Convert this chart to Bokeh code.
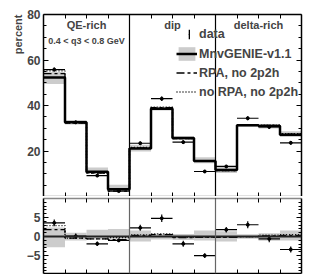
from bokeh.plotting import figure
from bokeh.models import (ColumnDataSource, Range1d, LinearAxis, FixedTicker, Span, Label,
                          Legend, LegendItem, Title)
from bokeh.layouts import column
from bokeh.embed import file_html
from bokeh.resources import INLINE

# ---------------- data ----------------
bin_edges = [0, 1, 2, 3, 4, 5, 6, 7, 8, 9, 10, 11, 12]
regions = ["QE-rich", "dip", "delta-rich"]
region_centers = [2, 6, 10]
region_dividers = [4, 8]
q3_label = "0.4 < q3 < 0.8 GeV"
legend_labels = ["data", "MnvGENIE-v1.1", "RPA, no 2p2h", "no RPA, no 2p2h"]

# top panel (percent)
mc_top = [52.3, 32.6, 10.9, 3.2, 21.1, 38.6, 25.7, 15.6, 11.6, 31.3, 31.0, 27.1]
data_top = [55.8, 32.6, 9.2, 2.4, 23.4, 43.0, 23.9, 11.0, 13.2, 34.4, 30.6, 23.6]
data_err = [0.9, 0.7, 0.6, 0.4, 0.8, 1.0, 0.8, 0.6, 0.7, 0.9, 0.9, 0.8]
rpa_no2p2h_top = [54.0, 32.3, 10.3, 2.4, 21.4, 39.1, 25.4, 15.4, 11.4, 31.3, 31.2, 27.4]
norpa_no2p2h_top = [55.2, 32.3, 10.3, 2.9, 21.6, 39.3, 25.5, 15.4, 11.4, 31.3, 31.4, 27.6]
band_hi = [2.4, 1.0, 1.8, 2.0, 1.6, 0.8, 0.7, 1.6, 1.4, 0.6, 0.9, 1.6]
band_lo = [-2.8, -1.0, -0.8, -0.6, -1.3, -0.8, -0.9, -1.0, -1.3, -0.6, -1.1, -1.0]

# bottom panel (difference to MnvGENIE-v1.1)
data_diff = [3.6, 0.1, -1.9, -1.0, 2.3, 4.8, -1.9, -5.0, 1.8, 3.1, -0.6, -3.4]
rpa_no2p2h_diff = [1.8, -0.4, -0.6, -0.8, 0.3, 0.5, -0.3, -0.2, -0.2, 0.0, 0.2, 0.3]
norpa_no2p2h_diff = [2.9, -0.4, -0.6, -0.3, 0.45, 0.7, -0.2, -0.2, -0.2, 0.0, 0.4, 0.5]

FONT = "Liberation Sans"
BAND = "#cccccc"
ERR_W = 0.055  # error-bar thickness in bin units

left = bin_edges[:-1]
right = bin_edges[1:]
mid = [(a + b) / 2 for a, b in zip(left, right)]


def step_y(vals):
    return list(vals) + [vals[-1]]


def hide_labels(ax):
    ax.major_label_text_font_size = "0px"
    ax.major_label_text_color = None
    ax.major_label_standoff = 0


def style_fig(p, yticks, yminor, top_color, bottom_color, tick_len=5):
    p.outline_line_color = None
    p.grid.visible = False
    p.background_fill_color = "white"
    p.border_fill_color = "white"
    xb = p.xaxis[0]
    xa = LinearAxis()
    p.add_layout(xa, "above")
    for ax, col in ((xb, bottom_color), (xa, top_color)):
        ax.ticker = FixedTicker(ticks=bin_edges[1:-1])
        ax.major_tick_in = 4
        ax.major_tick_out = 0
        ax.minor_tick_in = 0
        ax.minor_tick_out = 0
        hide_labels(ax)
        ax.axis_line_color = col
        ax.axis_line_width = 1.5
        ax.major_tick_line_color = "black"
    yl = p.yaxis[0]
    yr = LinearAxis()
    p.add_layout(yr, "right")
    for ax in (yl, yr):
        ax.ticker = FixedTicker(ticks=yticks, minor_ticks=yminor)
        ax.major_tick_in = tick_len
        ax.major_tick_out = 0
        ax.minor_tick_in = 3
        ax.minor_tick_out = 0
        ax.axis_line_color = "black"
        ax.axis_line_width = 1.5
    yl.major_label_text_font = FONT
    yl.major_label_text_font_style = "bold"
    yl.major_label_text_font_size = "12px"
    yl.major_label_standoff = 3
    hide_labels(yr)


# ---------------- top panel ----------------
p1 = figure(width=314, height=196, x_range=Range1d(0, 12), y_range=Range1d(0, 80),
            output_backend="svg", toolbar_location=None,
            min_border_left=43, min_border_right=13, min_border_top=14, min_border_bottom=0)

top_src = ColumnDataSource(dict(
    left=left, right=right, mid=mid,
    band_bot=[m + lo for m, lo in zip(mc_top, band_lo)],
    band_top=[m + hi for m, hi in zip(mc_top, band_hi)],
    data=data_top,
    dlo=[d - e for d, e in zip(data_top, data_err)],
    dhi=[d + e for d, e in zip(data_top, data_err)],
))

band_r = p1.quad(left="left", right="right", bottom="band_bot", top="band_top",
                 source=top_src, fill_color=BAND, line_color=None)
norpa_r = p1.step(x=bin_edges, y=step_y(norpa_no2p2h_top), mode="after",
                  line_color="black", line_width=1.3, line_dash="1 2")
rpa_r = p1.step(x=bin_edges, y=step_y(rpa_no2p2h_top), mode="after",
                line_color="black", line_width=1.3, line_dash="8 3 3 3")
mc_r = p1.step(x=bin_edges, y=step_y(mc_top), mode="after",
               line_color="black", line_width=2.5)
p1.segment(x0="left", x1="right", y0="data", y1="data", source=top_src,
           line_color="black", line_width=1.2)
err_r = p1.vbar(x="mid", width=ERR_W, bottom="dlo", top="dhi", source=top_src,
                fill_color="black", line_color=None)
dot_r = p1.scatter(x="mid", y="data", source=top_src, marker="circle", size=3,
                   fill_color="black", line_color="black")

for d in region_dividers:
    p1.add_layout(Span(location=d, dimension="height", line_color="black", line_width=1.2))

for name, c in zip(regions, region_centers):
    p1.add_layout(Label(x=c, y=75.6, text=name, text_align="center", text_baseline="middle",
                        text_font=FONT, text_font_style="bold", text_font_size="11px"))
p1.add_layout(Label(x=region_centers[0], y=68.3, text=q3_label, text_align="center",
                    text_baseline="middle", text_font=FONT, text_font_style="bold",
                    text_font_size="9px"))

style_fig(p1, [20, 40, 60, 80], [5, 10, 15, 25, 30, 35, 45, 50, 55, 65, 70, 75],
          "black", "#888888")

p1.add_layout(Title(text="percent", align="right", text_font=FONT, text_font_style="bold",
                    text_font_size="11px", standoff=1, offset=0), "left")


def style_legend(lg, gw, gh, standoff):
    lg.background_fill_alpha = 0
    lg.border_line_alpha = 0
    lg.padding = 0
    lg.margin = 0
    lg.spacing = 2
    lg.glyph_width = gw
    lg.glyph_height = gh
    lg.label_height = gh
    lg.label_standoff = standoff
    lg.label_text_font = FONT
    lg.label_text_font_style = "bold"
    lg.label_text_font_size = "12.5px"


legend_data = Legend(items=[LegendItem(label=legend_labels[0], renderers=[err_r, dot_r])],
                     location=(145, 155))
style_legend(legend_data, 2, 12, 9)
p1.add_layout(legend_data)

legend = Legend(items=[
    LegendItem(label=legend_labels[1], renderers=[band_r, mc_r]),
    LegendItem(label=legend_labels[2], renderers=[rpa_r]),
    LegendItem(label=legend_labels[3], renderers=[norpa_r]),
], location=(133, 96))
style_legend(legend, 21, 17, 2)
p1.add_layout(legend)

# ---------------- bottom panel ----------------
p2 = figure(width=314, height=78, x_range=p1.x_range, y_range=Range1d(-9.7, 10),
            output_backend="svg", toolbar_location=None,
            min_border_left=43, min_border_right=13, min_border_top=2, min_border_bottom=1)

bot_src = ColumnDataSource(dict(
    left=left, right=right, mid=mid,
    band_bot=band_lo, band_top=band_hi,
    data=data_diff,
    dlo=[d - e for d, e in zip(data_diff, data_err)],
    dhi=[d + e for d, e in zip(data_diff, data_err)],
))
p2.quad(left="left", right="right", bottom="band_bot", top="band_top",
        source=bot_src, fill_color=BAND, line_color=None)
p2.add_layout(Span(location=0, dimension="width", line_color="#222222", line_width=2))
p2.step(x=bin_edges, y=step_y(norpa_no2p2h_diff), mode="after",
        line_color="black", line_width=1.3, line_dash="1 2")
p2.step(x=bin_edges, y=step_y(rpa_no2p2h_diff), mode="after",
        line_color="black", line_width=1.3, line_dash="8 3 3 3")
p2.segment(x0="left", x1="right", y0="data", y1="data", source=bot_src,
           line_color="black", line_width=1.2)
p2.vbar(x="mid", width=ERR_W, bottom="dlo", top="dhi", source=bot_src,
        fill_color="black", line_color=None)
p2.scatter(x="mid", y="data", source=bot_src, marker="circle", size=3,
           fill_color="black", line_color="black")
for d in region_dividers:
    p2.add_layout(Span(location=d, dimension="height", line_color="#666666", line_width=1.2))

style_fig(p2, [-5, 0, 5], [-9, -8, -7, -6, -4, -3, -2, -1, 1, 2, 3, 4, 6, 7, 8, 9],
          "#888888", "black", tick_len=5)

layout = column(p1, p2, spacing=0)
open("out.html", "w").write(file_html(layout, INLINE))
